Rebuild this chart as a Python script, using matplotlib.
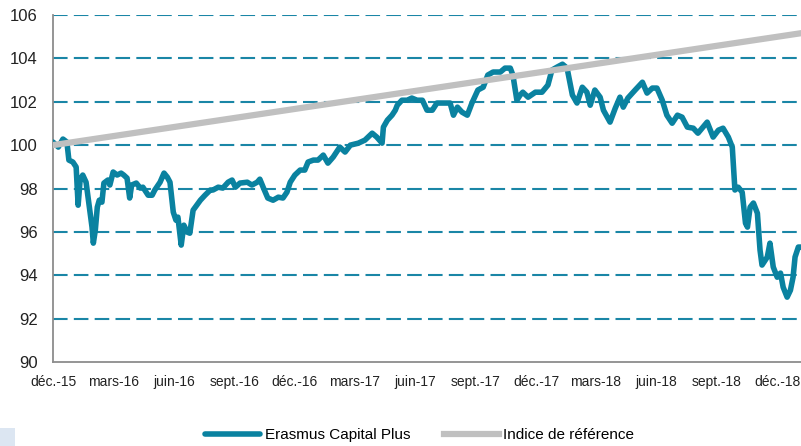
import pandas as pd
import matplotlib
matplotlib.use("Agg")
import matplotlib.pyplot as plt
from matplotlib.patches import Rectangle

plt.rcParams['font.family'] = ['Liberation Sans', 'DejaVu Sans']
plt.rcParams['lines.scale_dashes'] = False

start = pd.Timestamp("2015-12-01")

# fund (days after 1 Dec 2015, value)
fund_days = [0, 8, 15, 21, 24, 30, 35, 38, 41, 45, 50, 53, 59, 61, 64, 67, 70, 74, 77, 83,
             86, 91, 97, 103, 107, 112, 116, 119, 126, 132, 136, 144, 150, 154, 162, 168, 173,
             177, 182, 186, 189, 194, 198, 203, 207, 212, 223, 230, 238, 242, 250, 257, 265,
             271, 276, 283, 294, 301, 309, 313, 318, 325, 333, 341, 348, 354, 359, 366, 374,
             381, 386, 394, 401, 409, 416, 424, 434, 442, 450, 462, 472, 483, 490, 498, 500,
             506, 513, 518, 521, 528, 536, 543, 551, 559, 566, 574, 581, 596, 601, 606, 612,
             619, 627, 634, 643, 651, 658, 666, 677, 684, 692, 696, 702, 707, 711, 719, 730,
             740, 749, 755, 763, 771, 778, 786, 793, 801, 808, 813, 820, 828, 833, 843, 851,
             858, 863, 870, 881, 892, 899, 907, 914, 922, 929, 937, 945, 952, 960, 969, 976,
             990, 999, 1007, 1014, 1022, 1028, 1032, 1037, 1043, 1048, 1051, 1055, 1060, 1066,
             1070, 1073, 1081, 1085, 1090, 1096, 1101, 1105, 1111, 1116, 1120, 1123, 1128, 1132]
fund_values = [100.14, 99.91, 100.28, 100.14, 99.31, 99.22, 98.99, 97.23, 98.39, 98.62, 98.29,
               97.60, 96.22, 95.48, 96.08, 97.14, 97.46, 97.37, 98.25, 98.39, 98.16, 98.76,
               98.62, 98.71, 98.62, 98.48, 97.56, 98.16, 98.25, 98.02, 98.06, 97.69, 97.69,
               97.93, 98.29, 98.71, 98.52, 98.29, 96.91, 96.54, 96.68, 95.39, 96.31, 95.99,
               95.94, 97.00, 97.46, 97.69, 97.93, 97.93, 98.06, 98.02, 98.29, 98.39, 98.06,
               98.25, 98.29, 98.16, 98.29, 98.43, 98.06, 97.56, 97.46, 97.60, 97.56, 97.83,
               98.29, 98.62, 98.85, 98.85, 99.22, 99.31, 99.31, 99.54, 99.17, 99.45, 99.91,
               99.68, 100.00, 100.09, 100.23, 100.55, 100.37, 100.09, 100.83, 101.15, 101.38,
               101.61, 101.84, 102.07, 102.07, 102.17, 102.07, 102.07, 101.61, 101.61, 101.94,
               101.94, 101.94, 101.38, 101.75, 101.52, 101.38, 101.94, 102.54, 102.67, 103.23,
               103.37, 103.37, 103.55, 103.55, 103.23, 102.07, 102.31, 102.44, 102.21, 102.44,
               102.44, 102.77, 103.46, 103.60, 103.73, 103.55, 102.31, 101.94, 102.67, 102.44,
               101.84, 102.54, 102.21, 101.61, 101.06, 101.71, 102.21, 101.75, 102.17, 102.54,
               102.90, 102.40, 102.63, 102.63, 102.07, 101.38, 101.01, 101.38, 101.29, 100.83,
               100.78, 100.55, 101.06, 100.37, 100.69, 100.78, 100.37, 99.91, 97.93, 98.06,
               97.83, 96.40, 96.22, 97.14, 97.33, 96.86, 95.16, 94.47, 94.84, 95.48, 94.38,
               93.91, 94.10, 93.45, 92.99, 93.31, 93.91, 94.84, 95.30, 95.30]

# benchmark
bench_days = [0, 1132]
bench_values = [100.0, 105.16]

tick_dates = ["2015-12-01", "2016-03-01", "2016-06-01", "2016-09-01", "2016-12-01",
              "2017-03-01", "2017-06-01", "2017-09-01", "2017-12-01", "2018-03-01",
              "2018-06-01", "2018-09-01", "2018-12-01"]
tick_labels = ["déc.-15", "mars-16", "juin-16", "sept.-16", "déc.-16", "mars-17", "juin-17",
               "sept.-17", "déc.-17", "mars-18", "juin-18", "sept.-18", "déc.-18"]

fund_x = start + pd.to_timedelta(fund_days, unit="D")
bench_x = start + pd.to_timedelta(bench_days, unit="D")

teal = "#0a82a0"
grey = "#c0c0c0"

fig = plt.figure(figsize=(8.01, 4.46), dpi=100)
ax = fig.add_axes([0.0662, 0.1883, 0.9338, 0.7781])

for v in range(92, 107, 2):
    ax.axhline(v, color="#1a86a6", lw=1.5, linestyle=(0, (10.5, 4.5)), zorder=1)

ax.plot(fund_x, fund_values, color=teal, lw=4.0, solid_joinstyle="round",
        solid_capstyle="round", label="Erasmus Capital Plus", zorder=3)
ax.plot(bench_x, bench_values, color=grey, lw=4.5, label="Indice de référence", zorder=4)

ax.set_ylim(90, 106)
ax.set_yticks(range(90, 107, 2))
ax.set_xlim(start, start + pd.Timedelta(days=1132))
ax.set_xticks(pd.to_datetime(tick_dates))
ax.set_xticklabels(tick_labels)

ax.tick_params(axis="y", length=0, pad=11, labelsize=12, colors="#222222")
ax.tick_params(axis="x", length=0, pad=9, labelsize=10, colors="#222222")

for s in ["top", "right"]:
    ax.spines[s].set_visible(False)
for s in ["left", "bottom"]:
    ax.spines[s].set_color("#8c8c8c")
    ax.spines[s].set_linewidth(1.3)

fig.legend(loc="center", bbox_to_anchor=(0.524, 0.025), ncol=2, frameon=False,
           fontsize=11, handlelength=3.6, handletextpad=0.3, columnspacing=2.2)

# light blue block bottom-left
fig.patches.append(Rectangle((0, 0), 15 / 801, 18 / 446, transform=fig.transFigure,
                             facecolor="#dce6f2", edgecolor="none"))

fig.savefig("out.png", dpi=100)
